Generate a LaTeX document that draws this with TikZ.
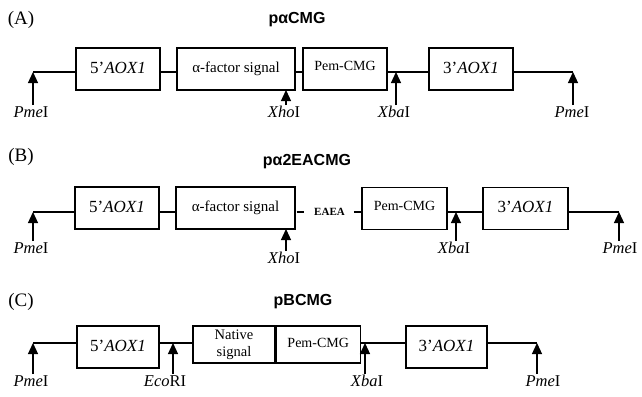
\documentclass[tikz,border=0pt]{standalone}
\usepackage{fontspec}
\setmainfont{Liberation Serif}
\newfontfamily\titlefont{Liberation Sans}
\usetikzlibrary{arrows.meta,calc,positioning}
\newcommand{\upby}[2]{\raisebox{#1}{#2}}
\tikzset{
  gene/.style={draw,line width=1.2pt,minimum height=42pt,inner sep=0pt,font=\fontsize{15}{17}\selectfont},
  aox/.style={gene,font=\fontsize{17}{19}\selectfont},
  pem/.style={gene,font=\fontsize{14}{16}\selectfont},
  site/.style={-{Triangle[width=10pt,length=11pt]},line width=1.2pt,shorten <=1pt},
  sitelbl/.style={font=\fontsize{16.5}{18}\selectfont,inner sep=0pt,anchor=north},
  title/.style={font=\titlefont\bfseries\fontsize{16}{18}\selectfont},
  panel/.style={font=\fontsize{19}{21}\selectfont},
  backbone/.style={line width=1.2pt}
}
\begin{document}
\begin{tikzpicture}[x=1pt,y=-1pt]
\useasboundingbox (0,0) rectangle (642,396);
% ---------------- (A)
\node[panel] (labA) at (21,20) {(A)};
\node[title] (titA) at (297,20) {pαCMG};
\coordinate (a0) at (33,72);
\coordinate (a1) at (286,90);
\coordinate (a2) at (396,72);
\coordinate (a3) at (573,72);
\node[aox,minimum width=84pt] (aoxFa) at (118,69) {\upby{3pt}{5’\textit{AOX1}}};
\node[gene,minimum width=118pt] (alphaA) at (236,69) {\upby{-2pt}{α-factor signal}};
\node[pem,minimum width=84pt] (pemA) at (345,69) {\upby{6pt}{Pem-CMG}};
\node[aox,minimum width=84pt] (aoxTa) at (471,69) {\upby{3pt}{3’\textit{AOX1}}};
\draw[backbone] (a0) -- (a0 -| aoxFa.west);
\draw[backbone] (aoxFa.east |- a0) -- (alphaA.west |- a0);
\draw[backbone] (alphaA.east |- a0) -- (pemA.west |- a0);
\draw[backbone] (pemA.east |- a0) -- (aoxTa.west |- a0);
\draw[backbone] (aoxTa.east |- a0) -- (a3);
% sites
\node[sitelbl] (pmeA1) at (31,106) {\textit{Pme}I};
\node[sitelbl] (xhoA) at (284,106) {\textit{Xho}I};
\node[sitelbl] (xbaA) at (394,106) {\textit{Xba}I};
\node[sitelbl] (pmeA2) at (572,106) {\textit{Pme}I};
\draw[site] (a0 |- pmeA1.north) -- (a0);
\draw[site] (a1 |- xhoA.north) -- (a1);
\draw[site] (a2 |- xbaA.north) -- (a2);
\draw[site] (a3 |- pmeA2.north) -- (a3);
% ---------------- (B)
\node[panel] (labB) at (21,157) {(B)};
\node[title] (titB) at (307,162) {pα2EACMG};
\coordinate (b0) at (33,212);
\coordinate (b1) at (286,229);
\coordinate (b2) at (456,212);
\coordinate (b3) at (619,212);
\node[aox,minimum width=84pt] (aoxFb) at (117,208) {\upby{3pt}{5’\textit{AOX1}}};
\node[gene,minimum width=119pt] (alphaB) at (235.5,208) {\upby{-2pt}{α-factor signal}};
\node[font=\fontsize{11}{12}\selectfont\bfseries,inner sep=0pt] (eaea) at (329.5,212) {EAEA};
\node[pem,minimum width=85pt] (pemB) at (404.5,208.5) {\upby{6pt}{Pem-CMG}};
\node[aox,minimum width=85pt] (aoxTb) at (525.5,208.5) {\upby{3pt}{3’\textit{AOX1}}};
\draw[backbone] (b0) -- (b0 -| aoxFb.west);
\draw[backbone] (aoxFb.east |- b0) -- (alphaB.west |- b0);
\draw[backbone] ($(alphaB.east |- b0)+(1,0)$) -- ($(eaea.west |- b0)+(-10,0)$);
\draw[backbone] ($(eaea.east |- b0)+(9,0)$) -- (pemB.west |- b0);
\draw[backbone] (pemB.east |- b0) -- (aoxTb.west |- b0);
\draw[backbone] (aoxTb.east |- b0) -- (b3);
% sites
\node[sitelbl] (pmeB1) at (31,242) {\textit{Pme}I};
\node[sitelbl] (xhoB) at (284,252) {\textit{Xho}I};
\node[sitelbl] (xbaB) at (454,242) {\textit{Xba}I};
\node[sitelbl] (pmeB2) at (620,242) {\textit{Pme}I};
\draw[site] (b0 |- pmeB1.north) -- (b0);
\draw[site] (b1 |- xhoB.north) -- (b1);
\draw[site] (b2 |- xbaB.north) -- (b2);
\draw[site] (b3 |- pmeB2.north) -- (b3);
% ---------------- (C)
\node[panel] (labC) at (21,302) {(C)};
\node[title] (titC) at (303,302) {pBCMG};
\coordinate (c0) at (33,343);
\coordinate (c1) at (173,343);
\coordinate (c2) at (365,343);
\coordinate (c3) at (537,343);
\node[aox,minimum width=82pt] (aoxFc) at (118,347) {\upby{3pt}{5’\textit{AOX1}}};
\node[gene,minimum width=82pt,minimum height=37pt,align=center,font=\fontsize{14.5}{17}\selectfont] (nativeC) at (234,344.5) {Native\\signal};
\node[pem,minimum width=84pt,minimum height=37pt,anchor=west] (pemC) at (nativeC.east) {\upby{4pt}{Pem-CMG}};
\node[aox,minimum width=81pt] (aoxTc) at (446.5,347) {\upby{3pt}{3’\textit{AOX1}}};
\draw[backbone] (c0) -- (c0 -| aoxFc.west);
\draw[backbone] (aoxFc.east |- c0) -- (nativeC.west |- c0);
\draw[backbone] (pemC.east |- c0) -- (aoxTc.west |- c0);
\draw[backbone] (aoxTc.east |- c0) -- (c3);
% sites
\node[sitelbl] (pmeC1) at (31,375) {\textit{Pme}I};
\node[sitelbl] (ecoC) at (165,375) {\textit{Eco}RI};
\node[sitelbl] (xbaC) at (367,375) {\textit{Xba}I};
\node[sitelbl] (pmeC2) at (543,375) {\textit{Pme}I};
\draw[site] (c0 |- pmeC1.north) -- (c0);
\draw[site] (c1 |- ecoC.north) -- (c1);
\draw[site] (c2 |- xbaC.north) -- (c2);
\draw[site] (c3 |- pmeC2.north) -- (c3);
\end{tikzpicture}
\end{document}
